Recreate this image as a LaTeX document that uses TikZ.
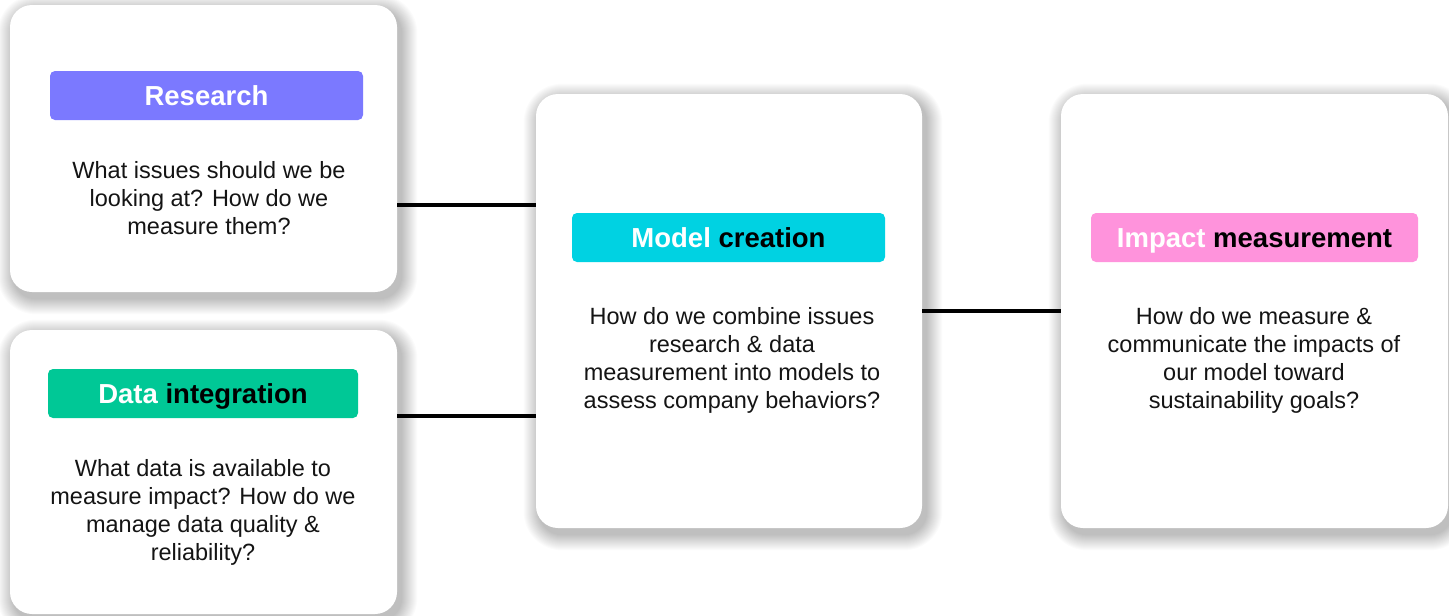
\documentclass[tikz,border=0pt]{standalone}
\usepackage{fontspec}
\setmainfont{Liberation Sans}
\usetikzlibrary{positioning,backgrounds}

\definecolor{tagviolet}{HTML}{7B79FF}
\definecolor{taggreen}{HTML}{00C896}
\definecolor{tagcyan}{HTML}{00D2E2}
\definecolor{tagpink}{HTML}{FF93DC}

\begin{document}
\begin{tikzpicture}[x=1pt, y=-1pt, node distance=20pt,
    card/.style={rectangle, rounded corners=22pt, fill=white, minimum width=387pt},
    tag/.style={rectangle, rounded corners=5pt, minimum height=49pt, inner sep=0pt,
                text height=19.8pt, text depth=0pt,
                font=\fontsize{27.5}{32}\selectfont\bfseries, text=white},
    ask/.style={align=center, font=\fontsize{23.5}{28}\selectfont, text=black!92},
    link/.style={line width=3.5pt}]
    \useasboundingbox (0,0) rectangle (1449,616);

    % the four cards
    \node[card, minimum height=287pt]                    (research) at (203.5,148.5) {};
    \node[card, minimum height=284pt]                    (data)     at (203.5,472)   {};
    \node[card, minimum height=434pt, minimum width=386pt] (model)  at (729,311)     {};
    \node[card, minimum height=434pt]                    (impact)   at (1254.5,311)  {};

    % soft shadows under the cards
    \begin{pgfonlayer}{background}
        \fill[white] (0,0) rectangle (1449,616);
        \foreach \card in {research,data,model,impact}
            \foreach \r in {1,...,16}
                \fill[black, opacity=0.015, rounded corners=22pt+\r pt]
                    ([xshift=4pt-\r pt, yshift=-6pt-\r pt]\card.south west)
                    rectangle ([xshift=4pt+\r pt, yshift=-6pt+\r pt]\card.north east);
    \end{pgfonlayer}

    % connectors
    \path ([yshift=-56.5pt]research.east) coordinate (r1)
          ([yshift=56pt]data.east)        coordinate (d1);
    \draw[link] (r1) -- (r1 -| model.west);
    \draw[link] (d1) -- (d1 -| model.west);
    \draw[link] (model.east) -- (impact.west);

    % coloured headers
    \node[tag, fill=tagviolet, minimum width=313pt] (researchtag) at (206.5,95.5)  {Research};
    \node[tag, fill=taggreen,  minimum width=310pt] (datatag)     at (203,393.5)   {Data \textcolor{black}{integration}};
    \node[tag, fill=tagcyan,   minimum width=313pt] (modeltag)    at (728.5,237.5) {Model \textcolor{black}{creation}};
    \node[tag, fill=tagpink,   minimum width=327pt] (impacttag)   at (1254.5,237.5) {Impact \textcolor{black}{measurement}};

    % questions
    \node[ask] (researchask) at (209,198) {What issues should we be\\looking at? How do we\\measure them?};
    \node[ask] (dataask)     at (203,512) {What data is available to\\measure impact? How do we\\manage data quality \&\\reliability?};
    \node[ask] (modelask)    at (732,360) {How do we combine issues\\research \& data\\measurement into models to\\assess company behaviors?};
    \node[ask] (impactask)   at (1254,360) {How do we measure \&\\communicate the impacts of\\our model toward\\sustainability goals?};
\end{tikzpicture}
\end{document}
